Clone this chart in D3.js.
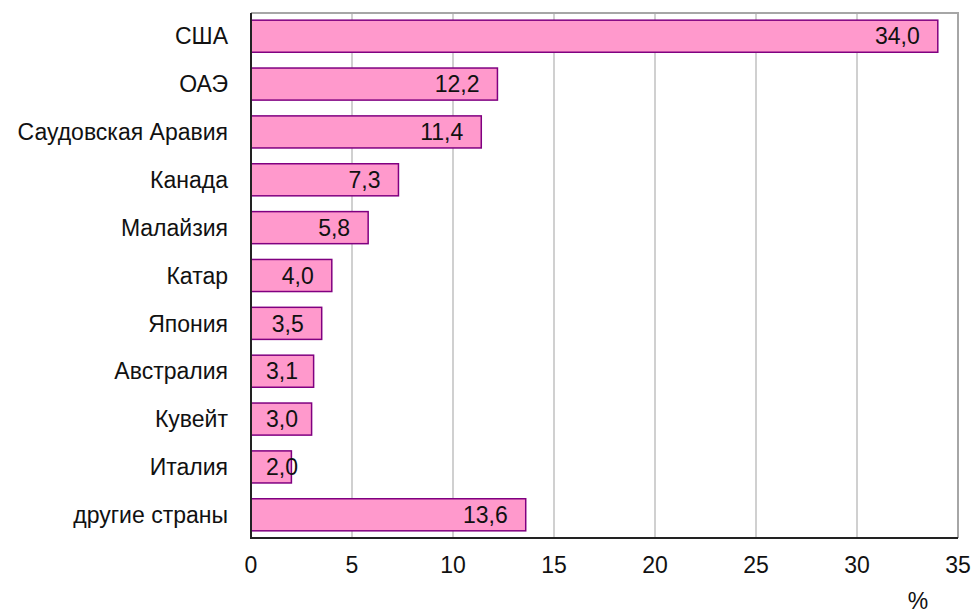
<!DOCTYPE html>
<html>
<head>
<meta charset="utf-8">
<script src="https://cdn.jsdelivr.net/npm/d3@7"></script>
<style>
  body { margin: 0; background: #fff; }
  text { font-family: "Liberation Sans", Arial, sans-serif; }
</style>
</head>
<body>
<svg id="chart" width="973" height="616"></svg>
<script>
var width = 973
var height = 616

// data
var countries = ["США", "ОАЭ", "Саудовская Аравия", "Канада", "Малайзия", "Катар",
                 "Япония", "Австралия", "Кувейт", "Италия", "другие страны"]
var shares = [34.0, 12.2, 11.4, 7.3, 5.8, 4.0, 3.5, 3.1, 3.0, 2.0, 13.6]
var xTicks = [0, 5, 10, 15, 20, 25, 30, 35]
var unitLabel = "%"

var margin = {top: 13, right: 15, bottom: 78, left: 251}
var fontSize = 23

function chart(id) {
  const svg = d3.select("svg#" + id)
  const fmt = v => v.toFixed(1).replace(".", ",")

  const x = d3.scaleLinear()
      .domain([0, 35])
      .range([margin.left, width - margin.right])

  const y = d3.scaleBand()
      .domain(countries)
      .range([margin.top, height - margin.bottom])
      .paddingInner(0.33)
      .paddingOuter(0.15)

  const rows = countries.map((c, i) => ({name: c, value: shares[i]}))

  // grid
  svg.append("g")
      .attr("stroke", "#c0c0c0")
      .attr("stroke-width", 1.5)
    .selectAll("line")
    .data(xTicks.slice(1, -1))
    .join("line")
      .attr("x1", d => x(d))
      .attr("x2", d => x(d))
      .attr("y1", margin.top)
      .attr("y2", height - margin.bottom)

  // frame top/right
  svg.append("path")
      .attr("fill", "none")
      .attr("stroke", "#a6a6a6")
      .attr("stroke-width", 2)
      .attr("d", `M${x(0)},${margin.top}H${x(35)}V${height - margin.bottom}`)

  // bars
  svg.append("g")
    .selectAll("rect")
    .data(rows)
    .join("rect")
      .attr("x", x(0))
      .attr("y", d => y(d.name))
      .attr("width", d => x(d.value) - x(0))
      .attr("height", y.bandwidth())
      .attr("fill", "#ff99cc")
      .attr("stroke", "#800080")
      .attr("stroke-width", 1.5)

  // value labels, pushed right when the bar is too short
  svg.append("g")
    .selectAll("text")
    .data(rows)
    .join("text")
      .attr("x", d => Math.max(x(d.value) - 18, x(0) + 47))
      .attr("y", d => y(d.name) + y.bandwidth() / 2)
      .attr("dy", "0.36em")
      .attr("text-anchor", "end")
      .attr("font-size", fontSize)
      .attr("fill", "#111")
      .text(d => fmt(d.value))

  // category labels
  svg.append("g")
    .selectAll("text")
    .data(rows)
    .join("text")
      .attr("x", x(0) - 23)
      .attr("y", d => y(d.name) + y.bandwidth() / 2)
      .attr("dy", "0.36em")
      .attr("text-anchor", "end")
      .attr("font-size", fontSize)
      .attr("fill", "#111")
      .text(d => d.name)

  // left and bottom axis lines
  svg.append("path")
      .attr("fill", "none")
      .attr("stroke", "#222")
      .attr("stroke-width", 2)
      .attr("d", `M${x(0)},${margin.top}V${height - margin.bottom}H${x(35)}`)

  // x tick labels
  svg.append("g")
    .selectAll("text")
    .data(xTicks)
    .join("text")
      .attr("x", d => x(d))
      .attr("y", 565)
      .attr("dy", "0.36em")
      .attr("text-anchor", "middle")
      .attr("font-size", fontSize)
      .attr("fill", "#111")
      .text(d => d)

  svg.append("text")
      .attr("x", 918)
      .attr("y", 609)
      .attr("text-anchor", "middle")
      .attr("font-size", fontSize)
      .attr("fill", "#111")
      .text(unitLabel)

  return svg.node()
}

chart("chart")
</script>
</body>
</html>
